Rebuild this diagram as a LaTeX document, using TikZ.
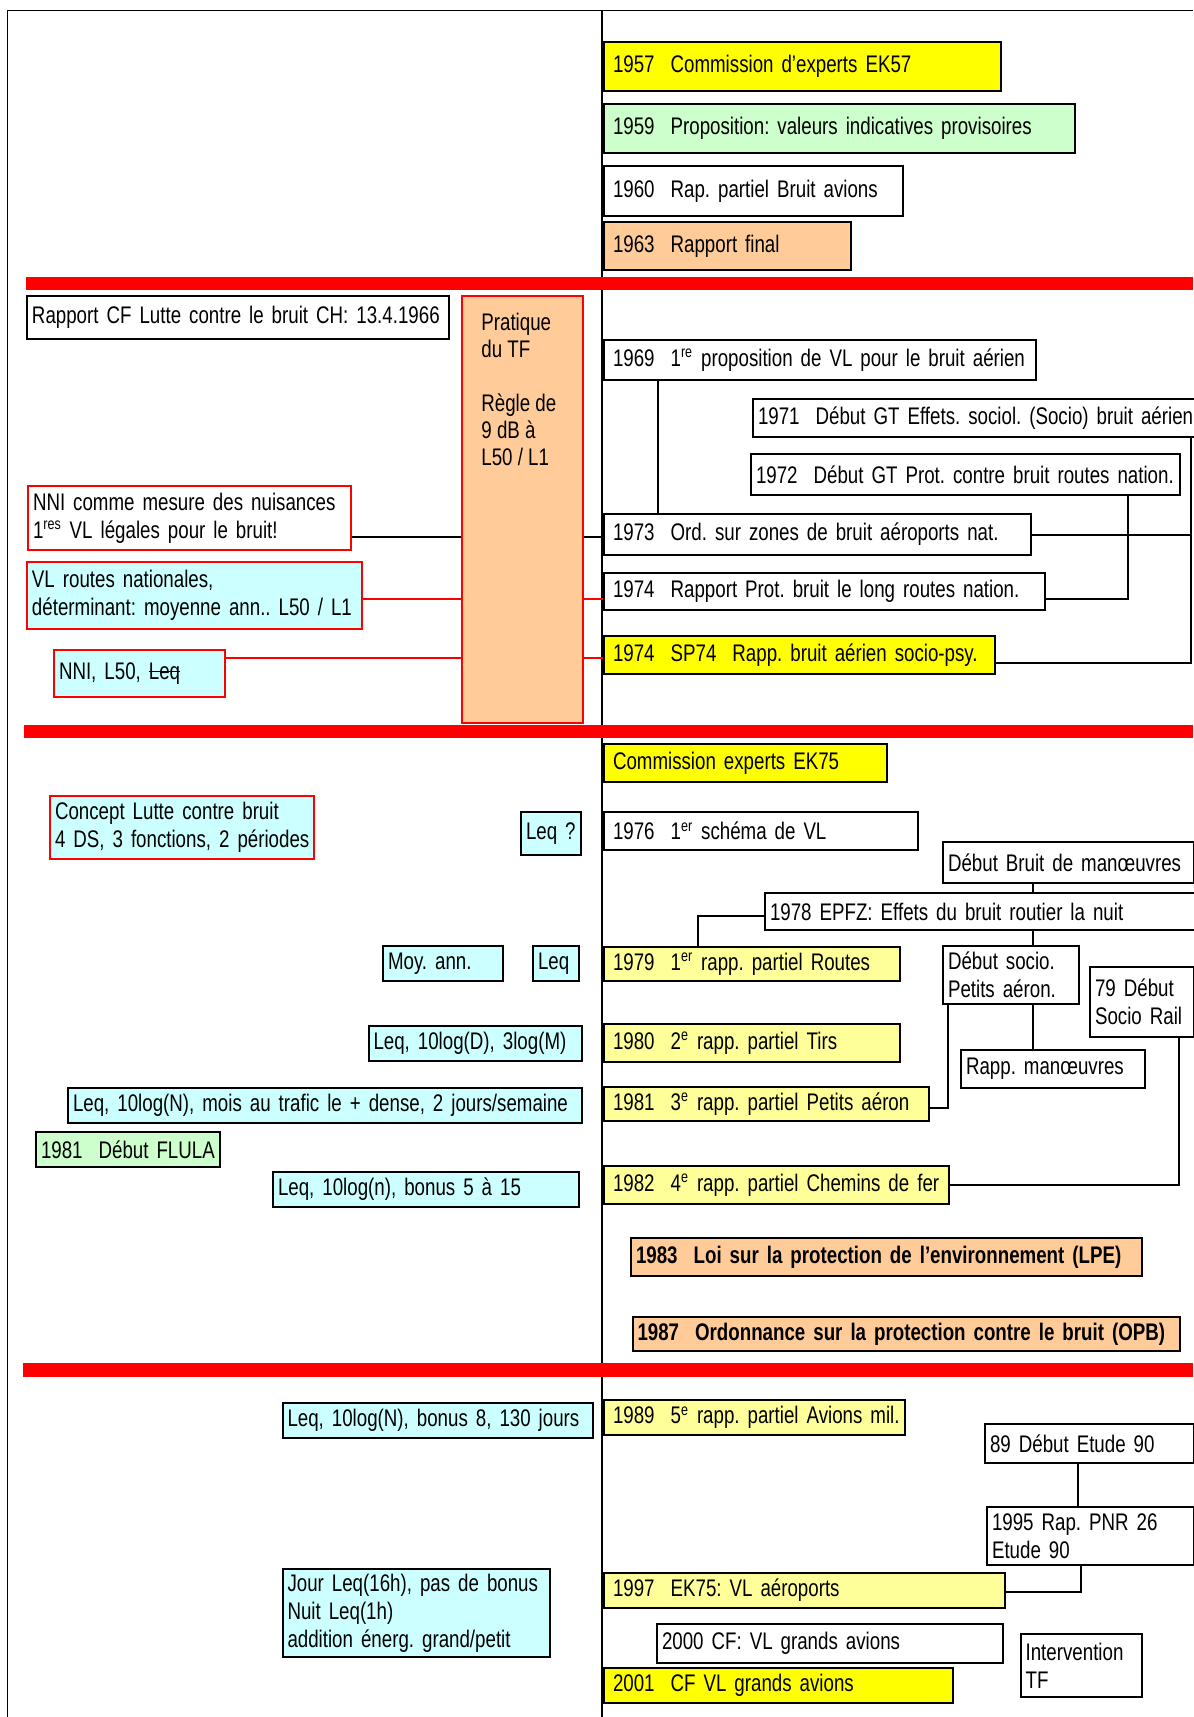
\documentclass[tikz,border=0pt]{standalone}
\usepackage{fontspec}
\setmainfont{Liberation Sans}[FakeStretch=0.78]
\newsavebox\strkbox
\newcommand{\strk}[1]{\sbox\strkbox{#1}\rlap{\rule[0.3em]{\wd\strkbox}{0.6pt}}\usebox\strkbox}
\definecolor{yel}{HTML}{FFFF00}
\definecolor{lyel}{HTML}{FFFF99}
\definecolor{grn}{HTML}{CCFFCC}
\definecolor{peach}{HTML}{FFCC99}
\definecolor{lcyan}{HTML}{CCFFFF}
\tikzset{
  yr/.style={draw,fill=white,line width=1pt,anchor=north west,inner xsep=4.5pt,inner ysep=0.5pt,align=left,
    execute at begin node={\rightskip=0pt plus 1fil minus 80pt}},
  bx/.style={draw,fill=white,line width=1pt,anchor=north west,inner xsep=2.5pt,inner ysep=0.5pt,align=left,
    execute at begin node={\rightskip=0pt plus 1fil minus 80pt}},
  lnk/.style={line width=1pt},
  fine/.style={line width=0.6pt},
  band/.style={fill=red}
}
\frenchspacing
\begin{document}
\begin{tikzpicture}[x=0.5pt,y=-0.5pt,font=\fontsize{12}{14}\selectfont]
        \useasboundingbox (0,0) rectangle (1193,1717);
        \draw[line width=0.8pt] (7.6,1717) -- (7.6,10.7) -- (1193,10.7);
        \draw[line width=0.8pt] (602,10.7) -- (602,1717);
        \fill[band] (26,277) rectangle (1193,290);
        \fill[band] (24,725) rectangle (1193,738);
        \fill[band] (23,1363) rectangle (1193,1377);

        \node[yr,fill=yel,text width=189.5pt,minimum height=24.5pt] (e57) at (603,41) {1957~~Commission d'experts EK57};
        \node[yr,fill=grn,text width=226.5pt,minimum height=24.5pt] (e59) at (603,103) {1959~~Proposition: valeurs indicatives provisoires};
        \node[yr,text width=140.5pt,minimum height=25pt] (e60) at (603,165) {1960~~Rap. partiel Bruit avions};
        \node[yr,fill=peach,text width=114.5pt,minimum height=24pt] (e63) at (603,221) {1963~~Rapport final};

        \node[bx,text width=206pt,minimum height=21.5pt] (rcf) at (26,295) {Rapport CF Lutte contre le bruit CH: 13.4.1966};
        \node[draw=red,fill=peach,line width=1pt,anchor=north west,inner sep=0pt,minimum width=60.5pt,minimum height=213.5pt] (tf) at (461,295) {};
        \node[anchor=north west,align=left,inner sep=0pt,font=\fontsize{12}{13.5}\selectfont] (tftxt) at ([xshift=10pt,yshift=-9pt]tf.north west) {Pratique\\du TF\\[13.5pt]Règle de\\9 dB à\\L50 / L1};
        \node[yr,text width=207pt,minimum height=20pt] (e69) at (603,339) {1969~~1\textsuperscript{re} proposition de VL pour le bruit aérien};
        \node[bx,text width=255pt,minimum height=19pt] (e71) at (752,398) {1971~~Début GT Effets. sociol. (Socio) bruit aérien};
        \node[bx,text width=209.5pt,minimum height=20.5pt] (e72) at (750,453) {1972~~Début GT Prot. contre bruit routes nation.};
        \node[bx,draw=red,text width=156.5pt,minimum height=32pt] (nni) at (27,485) {NNI comme mesure des nuisances\\1\textsuperscript{res} VL légales pour le bruit!};
        \node[yr,text width=204.5pt,minimum height=20.5pt] (e73) at (603,513) {1973~~Ord. sur zones de bruit aéroports nat.};
        \node[bx,draw=red,fill=lcyan,text width=162.5pt,minimum height=33.5pt] (vlr) at (26,561) {VL routes nationales,\\déterminant: moyenne ann.. L50 / L1};
        \node[yr,text width=211.5pt,minimum height=18.5pt] (e74r) at (603,572) {1974~~Rapport Prot. bruit le long routes nation.};
        \node[bx,draw=red,fill=lcyan,text width=80.5pt,minimum height=23.5pt] (nnil) at (53,649) {NNI, L50, \strk{Leq}};
        \node[yr,fill=yel,text width=186.5pt,minimum height=19pt] (e74s) at (603,635) {1974~~SP74~~Rapp. bruit aérien socio-psy.};

        \node[yr,fill=yel,text width=132.5pt,minimum height=19pt] (ek75) at (603,743) {Commission experts EK75};
        \node[bx,draw=red,fill=lcyan,text width=127pt,minimum height=31.5pt] (cpt) at (49,795) {Concept Lutte contre bruit\\4 DS, 3 fonctions, 2 périodes};
        \node[bx,fill=lcyan,text width=25pt,minimum height=21.5pt] (leqq) at (520,811) {Leq ?};
        \node[yr,text width=148pt,minimum height=19pt] (e76) at (603,811) {1976~~1\textsuperscript{er} schéma de VL};
        \node[bx,text width=120.5pt,minimum height=20.5pt] (dbm) at (942,841) {Début Bruit de manœuvres};
        \node[bx,text width=233pt,minimum height=18.5pt] (e78) at (764,892) {1978 EPFZ: Effets du bruit routier la nuit};
        \node[bx,fill=lcyan,text width=55pt,minimum height=17.5pt] (moy) at (382,945) {Moy. ann.};
        \node[bx,fill=lcyan,text width=18pt,minimum height=17.5pt] (leqm) at (532,945) {Leq};
        \node[yr,fill=lyel,text width=139pt,minimum height=17pt] (e79) at (603,946) {1979~~1\textsuperscript{er} rapp. partiel Routes};
        \node[bx,text width=63pt,minimum height=29pt] (dsp) at (942,945) {Début socio.\\Petits aéron.};
        \node[bx,text width=47pt,minimum height=35pt] (dsr) at (1089,966) {79 Début\\Socio Rail};
        \node[bx,fill=lcyan,text width=101.5pt,minimum height=17.5pt] (leqd) at (367.5,1025) {Leq, 10log(D), 3log(M)};
        \node[yr,fill=lyel,text width=139pt,minimum height=19pt] (e80) at (603,1023) {1980~~2\textsuperscript{e} rapp. partiel Tirs};
        \node[bx,text width=87pt,minimum height=19pt] (rman) at (960,1049) {Rapp. manœuvres};
        \node[yr,fill=lyel,text width=153.5pt,minimum height=17pt] (e81) at (603,1086) {1981~~3\textsuperscript{e} rapp. partiel Petits aéron};
        \node[bx,fill=lcyan,text width=251.75pt,minimum height=17.5pt] (leqn) at (67,1087) {Leq, 10log(N), mois au trafic le + dense, 2 jours/semaine};
        \node[bx,fill=grn,text width=87pt,minimum height=17.5pt] (flula) at (35,1131) {1981~~Début FLULA};
        \node[bx,fill=lcyan,text width=148pt,minimum height=17.5pt] (leqb) at (272,1171) {Leq, 10log(n), bonus 5 à 15};
        \node[yr,fill=lyel,text width=163.5pt,minimum height=19pt] (e82) at (603,1165) {1982~~4\textsuperscript{e} rapp. partiel Chemins de fer};
        \node[bx,fill=peach,text width=250.25pt,minimum height=19pt,font=\fontsize{12}{14}\selectfont\bfseries] (e83) at (630,1237) {1983~~Loi sur la protection de l'environnement (LPE)};
        \node[bx,fill=peach,text width=268.5pt,minimum height=17pt,font=\fontsize{12}{14}\selectfont\bfseries] (e87) at (631.5,1316) {1987~~Ordonnance sur la protection contre le bruit (OPB)};

        \node[bx,fill=lcyan,text width=150.25pt,minimum height=17.5pt] (leqb8) at (281.5,1402) {Leq, 10log(N), bonus 8, 130 jours};
        \node[yr,fill=lyel,text width=141.5pt,minimum height=17.5pt] (e89) at (603,1399) {1989~~5\textsuperscript{e} rapp. partiel Avions mil.};
        \node[bx,text width=99.5pt,minimum height=19.5pt] (de90) at (984,1423) {89 Début Etude 90};
        \node[bx,text width=98.5pt,minimum height=29pt] (e95) at (986,1506) {1995 Rap. PNR 26\\Etude 90};
        \node[yr,fill=lyel,text width=191.5pt,minimum height=17.5pt] (e97) at (603,1572) {1997~~EK75: VL aéroports};
        \node[bx,fill=lcyan,text width=128.75pt,minimum height=44pt] (jour) at (281.5,1568) {Jour Leq(16h), pas de bonus\\Nuit Leq(1h)\\addition énerg. grand/petit};
        \node[bx,text width=168pt,minimum height=19.5pt] (e00) at (656,1623) {2000 CF: VL grands avions};
        \node[bx,text width=55.5pt,minimum height=31.5pt] (itf) at (1019.6,1633) {Intervention\\TF};
        \node[yr,fill=yel,text width=165.5pt,minimum height=17.5pt] (e01) at (603,1667) {2001~~CF VL grands avions};

        \draw[lnk] (nni.east |- 0,537) -- (tf.west |- 0,537);
        \draw[lnk] (tf.east |- 0,537) -- (e73.west |- 0,537);
        \draw[lnk,red] (vlr.east |- 0,599) -- (tf.west |- 0,599);
        \draw[lnk,red] (tf.east |- 0,599) -- (e74r.west |- 0,599);
        \draw[lnk,red] (nnil.east |- 0,658) -- (tf.west |- 0,658);
        \draw[lnk,red] (tf.east |- 0,658) -- (e74s.west |- 0,658);
        \draw[fine] (e69.south -| 658,0) -- (e73.north -| 658,0);
        \draw[lnk] (e72.south -| 1128,0) |- (e74r.east |- 0,599);
        \draw[lnk] (e71.south -| 1191,0) |- (e74s.east |- 0,663);
        \draw[lnk] (e73.east) -- (e73.east -| 1191,0);
        \draw[fine] (dbm.south -| 1033,0) -- (e78.north -| 1033,0);
        \draw[lnk] (e78.west |- 0,916) -| (e79.north -| 698,0);
        \draw[fine] (e78.south -| 1033,0) -- (dsp.north -| 1033,0);
        \draw[fine] (dsp.south -| 1033,0) -- (rman.north -| 1033,0);
        \draw[lnk] (dsp.south -| 948,0) |- (e81.east |- 0,1108);
        \draw[lnk] (dsr.south -| 1179,0) |- (e82.east);
        \draw[fine] (de90.south -| 1078,0) -- (e95.north -| 1078,0);
        \draw[lnk] (e95.south -| 1081,0) |- (e97.east |- 0,1592);
    \end{tikzpicture}
\end{document}
